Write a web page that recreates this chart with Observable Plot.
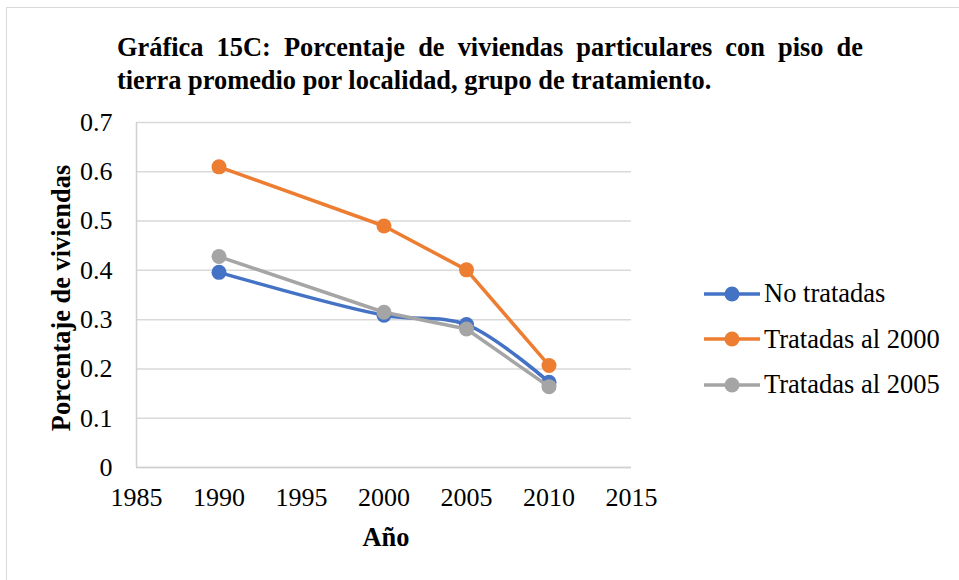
<!DOCTYPE html>
<html>
<head>
<meta charset="utf-8">
<script src="https://cdn.jsdelivr.net/npm/d3@7"></script>
<script src="https://cdn.jsdelivr.net/npm/@observablehq/plot@0.6"></script>
<style>
  html, body { margin: 0; padding: 0; background: #fff; }
  #wrap { position: relative; width: 959px; height: 580px; overflow: hidden; font-family: 'Liberation Serif', 'Times New Roman', serif; color: #000; }
  #wrap * { font-family: 'Liberation Serif', 'Times New Roman', serif !important; }
  #frame { position: absolute; left: 6px; top: 7px; right: -2px; bottom: -2px; border-top: 1.5px solid #d9d9d9; border-left: 1.5px solid #d9d9d9; }
  .tl { position: absolute; left: 117px; width: 746px; font-weight: bold; font-size: 26.4px; line-height: 30px; white-space: nowrap; }
  #t1 { top: 32px; text-align: justify; text-align-last: justify; white-space: normal; }
  #t2 { top: 65px; }
  #ylab { position: absolute; left: 61px; top: 298px; transform: translate(-50%, -50%) rotate(-90deg); font-weight: bold; font-size: 26.4px; white-space: nowrap; }
  #xlab { position: absolute; left: 386px; top: 537px; transform: translate(-50%, -50%); font-weight: bold; font-size: 26.4px; white-space: nowrap; }
  #plot { position: absolute; left: 0; top: 0; }
  #plot svg text { font-family: 'Liberation Serif', 'Times New Roman', serif !important; font-variant: normal !important; }
  #legend { position: absolute; left: 703px; top: 271px; font-size: 26.5px; }
  .item { display: flex; align-items: center; height: 45.5px; }
  .item svg { margin-right: 3px; }
</style>
</head>
<body>
<div id="wrap">
  <div id="frame"></div>
  <div id="t1" class="tl">Gráfica 15C: Porcentaje de viviendas particulares con piso de</div>
  <div id="t2" class="tl">tierra promedio por localidad, grupo de tratamiento.</div>
  <div id="plot"></div>
  <div id="ylab">Porcentaje de viviendas</div>
  <div id="xlab">Año</div>
  <div id="legend"></div>
</div>
<script>
const years = [1990, 2000, 2005, 2010];
const seriesNames = ["No tratadas", "Tratadas al 2000", "Tratadas al 2005"];
const noTratadas = [0.396, 0.309, 0.290, 0.173];
const tratadas2000 = [0.610, 0.490, 0.401, 0.207];
const tratadas2005 = [0.428, 0.315, 0.281, 0.164];
const colors = ["#4472C4", "#ED7D31", "#A5A5A5"];
const xTicks = [1985, 1990, 1995, 2000, 2005, 2010, 2015];
const yTicks = [0, 0.1, 0.2, 0.3, 0.4, 0.5, 0.6, 0.7];

const allValues = [noTratadas, tratadas2000, tratadas2005];
const data = [];
seriesNames.forEach((s, i) => years.forEach((y, j) => data.push({serie: s, year: y, value: allValues[i][j]})));
const bySerie = s => data.filter(d => d.serie === s);

const curves = ["catmull-rom", "linear", "linear"];
const FONT = "'Liberation Serif', 'Times New Roman', serif";

const marks = [
  Plot.gridY(yTicks, {stroke: "#d9d9d9", strokeOpacity: 1, strokeWidth: 1.5}),
  Plot.ruleX([1985], {y1: 0, y2: 0.7, stroke: "#d0d0d0", strokeWidth: 1.5}),
  Plot.ruleY([0], {stroke: "#d0d0d0", strokeWidth: 1.5}),
  Plot.axisY(yTicks, {tickSize: 0, tickPadding: 24, tickFormat: d => String(d), fontSize: 26, label: null}),
  Plot.axisX(xTicks, {tickSize: 0, tickPadding: 20, tickFormat: d => String(d), fontSize: 26, label: null})
];
seriesNames.forEach((s, i) => {
  marks.push(Plot.line(bySerie(s), {x: "year", y: "value", stroke: colors[i], strokeWidth: 3.5, curve: curves[i]}));
  marks.push(Plot.dot(bySerie(s), {x: "year", y: "value", fill: colors[i], r: 7.5}));
});

const chart = Plot.plot({
  width: 959,
  height: 580,
  marginLeft: 136,
  marginRight: 328,
  marginTop: 122,
  marginBottom: 113,
  style: {fontFamily: FONT, color: "#000", background: "transparent", fontSize: "26px"},
  x: {domain: [1985, 2015]},
  y: {domain: [0, 0.7]},
  marks
});
document.getElementById("plot").appendChild(chart);

const legend = document.getElementById("legend");
seriesNames.forEach((s, i) => {
  const item = document.createElement("div");
  item.className = "item";
  item.innerHTML = `<svg width="58" height="20"><line x1="1" y1="10" x2="57" y2="10" stroke="${colors[i]}" stroke-width="3.5"/><circle cx="29" cy="10" r="7.5" fill="${colors[i]}"/></svg><span>${s}</span>`;
  legend.appendChild(item);
});
</script>
</body>
</html>
